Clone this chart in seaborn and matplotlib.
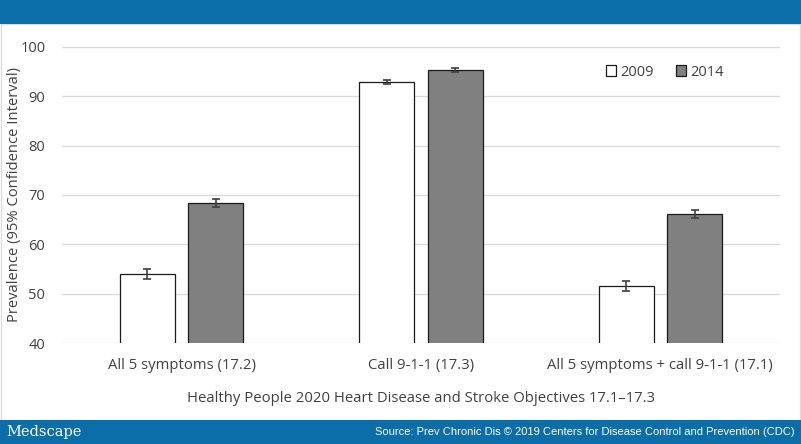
import matplotlib
matplotlib.use("Agg")
import matplotlib.pyplot as plt
import seaborn as sns
import pandas as pd
from matplotlib.patches import Rectangle

categories = ["All 5 symptoms (17.2)", "Call 9-1-1 (17.3)", "All 5 symptoms + call 9-1-1 (17.1)"]
years = ["2009", "2014"]
values_2009 = [54.0, 92.9, 51.5]
values_2014 = [68.3, 95.4, 66.2]
ci_2009 = [1.0, 0.4, 1.0]
ci_2014 = [0.8, 0.4, 0.8]

rows = []
for c, v, e in zip(categories, values_2009, ci_2009):
    rows.append({"cat": c, "year": "2009", "val": v, "ci": e})
for c, v, e in zip(categories, values_2014, ci_2014):
    rows.append({"cat": c, "year": "2014", "val": v, "ci": e})
df = pd.DataFrame(rows)

sns.set_theme(style="white")
plt.rcParams['font.family'] = ['Open Sans', 'DejaVu Sans']

fig = plt.figure(figsize=(8.01, 4.44), dpi=100)
ax = fig.add_axes([62/801, 1-343/444, (780-62)/801, (343-47)/444])

sns.barplot(data=df, x="cat", y="val", hue="year", order=categories, hue_order=years,
            palette={"2009": "#ffffff", "2014": "#808080"}, width=0.573, gap=0.197,
            errorbar=None, edgecolor="#1a1a1a", linewidth=0.9, ax=ax, zorder=3)

# error bars from bar positions
for cont, errs in zip(ax.containers, [ci_2009, ci_2014]):
    xs = [p.get_x() + p.get_width()/2 for p in cont.patches]
    ys = [p.get_height() + p.get_y() for p in cont.patches]
    ax.errorbar(xs, ys, yerr=errs, fmt="none", ecolor="#404040", elinewidth=1.2,
                capsize=3, capthick=1.2, zorder=4)

ax.set_xlim(-0.5, 2.5)
ax.set_ylim(40, 100)
ax.set_yticks(range(40, 101, 10))
ax.yaxis.grid(True, color="#d9d9d9", linewidth=1)
ax.set_axisbelow(True)
for s in ax.spines.values():
    s.set_visible(False)
ax.tick_params(axis="both", length=0, colors="#404040")
ax.tick_params(axis="x", labelsize=10.7, pad=11)
ax.tick_params(axis="y", labelsize=10.5, pad=12)
ax.set_ylabel("Prevalence (95% Confidence Interval)", fontsize=10.6, color="#404040")
ax.yaxis.set_label_coords(-0.056, 0.5)
ax.set_xlabel("Healthy People 2020 Heart Disease and Stroke Objectives 17.1–17.3",
              fontsize=10.7, color="#404040", labelpad=13)

leg = ax.legend(loc="center right", bbox_to_anchor=(0.94, 0.915), ncol=2, frameon=False,
                fontsize=10.5, handlelength=0.7, handleheight=0.7, handletextpad=0.3,
                columnspacing=1.5, labelcolor="#404040")

# header, footer bars and panel border
blue = "#0b6ea8"
fig.patches.append(Rectangle((0.5/801, 24/444), 799.5/801, 396/444, transform=fig.transFigure,
                             facecolor="none", edgecolor="#dcdcdc", linewidth=1.0, zorder=0))
fig.patches.append(Rectangle((0, 1-24/444), 1, 24/444, transform=fig.transFigure,
                             facecolor=blue, edgecolor="none", zorder=0))
fig.patches.append(Rectangle((0, 0), 1, 24/444, transform=fig.transFigure,
                             facecolor=blue, edgecolor="none", zorder=0))
fig.text(6/801, 12/444, "Medscape", family="DejaVu Serif", fontsize=10.5, color="white",
         va="center", ha="left")
fig.text(795/801, 12/444, "Source: Prev Chronic Dis © 2019 Centers for Disease Control and Prevention (CDC)",
         family="Liberation Sans", fontsize=8, color="white", va="center", ha="right")

fig.savefig("out.png", dpi=100)
